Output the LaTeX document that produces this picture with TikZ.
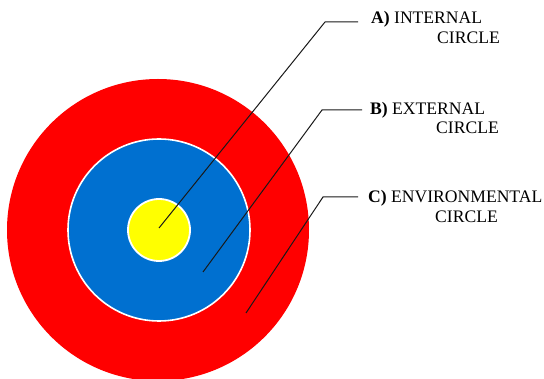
\documentclass[tikz,border=0pt]{standalone}
\usepackage{fontspec}
\setmainfont{Liberation Serif}
\definecolor{ringred}{RGB}{255,0,0}
\definecolor{ringblue}{RGB}{0,112,208}
\definecolor{ringyellow}{RGB}{255,255,0}
\begin{document}
\begin{tikzpicture}[x=1pt,y=-1pt,
  leader/.style={draw=black!90,line width=1pt},
  lbl/.style={anchor=base west,inner sep=0pt,font=\fontsize{17.6}{20}\selectfont}]
\useasboundingbox (0,0) rectangle (544,379);
\fill[ringred] (158,230) circle[radius=151];
\filldraw[fill=ringblue,draw=white,line width=1.6pt] (159,230) circle[radius=91];
\filldraw[fill=ringyellow,draw=white,line width=1.8pt] (159,230) circle[radius=31];
% label texts
\node[lbl] (ta) at (371,24) {\textbf{A)} INTERNAL};
\node[lbl] (ta2) at (437,44) {CIRCLE};
\node[lbl] (tb) at (370,115) {\textbf{B)} EXTERNAL};
\node[lbl] (tb2) at (436,134) {CIRCLE};
\node[lbl] (tc) at (368,203) {\textbf{C)} ENVIRONMENTAL};
\node[lbl] (tc2) at (435,223) {CIRCLE};
% leader coordinates
\coordinate (pa) at (159,228);
\coordinate (ka) at (325,22);
\coordinate (ea) at (358,22);
\coordinate (pb) at (203,272);
\coordinate (kb) at (322,110);
\coordinate (eb) at (362,110);
\coordinate (pc) at (246,313);
\coordinate (kc) at (323,197);
\coordinate (ec) at (358,197);
\draw[leader] (pa) -- (ka) -- (ea);
\draw[leader] (pb) -- (kb) -- (eb);
\draw[leader] (pc) -- (kc) -- (ec);
\end{tikzpicture}
\end{document}
